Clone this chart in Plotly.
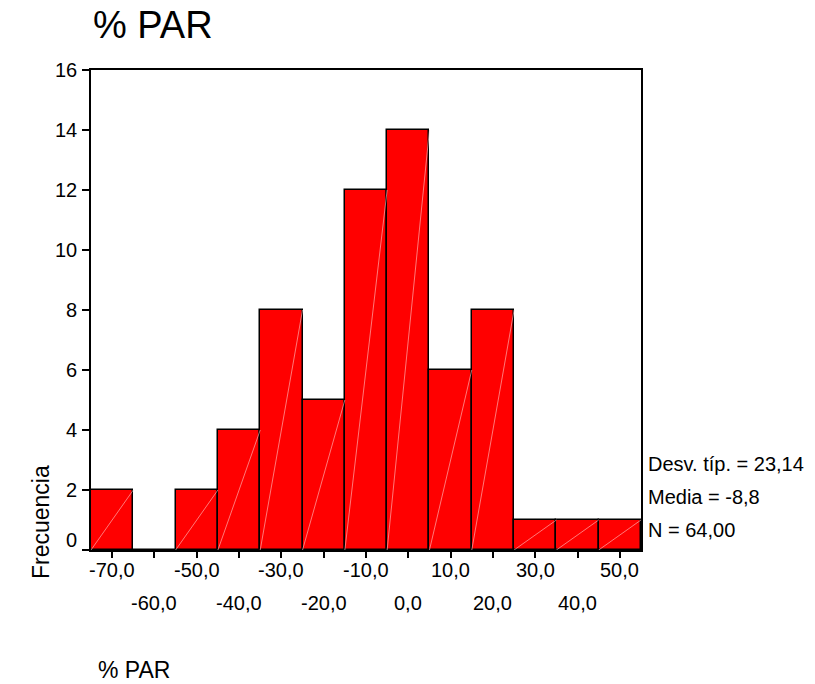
import plotly.graph_objects as go

# Data
bin_centers = [-70, -60, -50, -40, -30, -20, -10, 0, 10, 20, 30, 40, 50]
counts = [2, 0, 2, 4, 8, 5, 12, 14, 6, 8, 1, 1, 1]
x_tick_labels = ["-70,0", "-60,0", "-50,0", "-40,0", "-30,0", "-20,0", "-10,0",
                 "0,0", "10,0", "20,0", "30,0", "40,0", "50,0"]
y_tick_vals = [0, 2, 4, 6, 8, 10, 12, 14, 16]
stats_lines = ["Desv. típ. = 23,14", "Media = -8,8", "N = 64,00"]
title_text = "% PAR"
x_title = "% PAR"
y_title = "Frecuencia"
bin_width = 10

FONT = "Liberation Sans, Arial, sans-serif"

fig = go.Figure()
fig.add_trace(go.Bar(
    x=bin_centers, y=counts, width=[bin_width] * len(bin_centers),
    marker=dict(color="#FF0000", line=dict(color="black", width=1.5)),
    hoverinfo="x+y", showlegend=False,
))

# faint diagonal rendering lines inside each bar
dx, dy = [], []
for c, n in zip(bin_centers, counts):
    if n > 0:
        dx += [c - bin_width / 2, c + bin_width / 2, None]
        dy += [0, n, None]
fig.add_trace(go.Scatter(x=dx, y=dy, mode="lines",
                         line=dict(color="rgba(255,200,200,0.6)", width=1),
                         hoverinfo="skip", showlegend=False))

ann = []
# x tick labels, staggered in two rows
for i, (v, t) in enumerate(zip(bin_centers, x_tick_labels)):
    ann.append(dict(x=v, xref="x", y=0, yref="paper", yanchor="middle",
                    xanchor="center", text=t, showarrow=False,
                    yshift=-20 if i % 2 == 0 else -53,
                    font=dict(family=FONT, size=20, color="black")))
# y tick labels
for v in y_tick_vals:
    ann.append(dict(x=0, xref="paper", y=v, yref="y", xanchor="right",
                    yanchor="middle", text=str(v), showarrow=False,
                    xshift=-12, yshift=10 if v == 0 else 0,
                    font=dict(family=FONT, size=20, color="black")))
# stats
for i, s in enumerate(stats_lines):
    ann.append(dict(x=1, xref="paper", y=0, yref="paper", xanchor="left",
                    yanchor="middle", text=s, showarrow=False,
                    xshift=5, yshift=86 - 33 * i,
                    font=dict(family=FONT, size=20, color="black")))
# title
ann.append(dict(x=0, xref="paper", y=1, yref="paper", xanchor="left",
                yanchor="middle", text=title_text, showarrow=False,
                yshift=45, font=dict(family=FONT, size=38, color="black")))
# x axis title
ann.append(dict(x=0, xref="paper", y=0, yref="paper", xanchor="left",
                yanchor="middle", text=x_title, showarrow=False,
                xshift=5, yshift=-120, font=dict(family=FONT, size=23, color="black")))
# y axis title
ann.append(dict(x=0, xref="paper", y=0, yref="paper", xanchor="center",
                yanchor="middle", text=y_title, showarrow=False, textangle=-90,
                xshift=-50, yshift=28, font=dict(family=FONT, size=23, color="black")))

fig.update_layout(
    width=815, height=684,
    margin=dict(l=91, r=174, t=70, b=134),
    paper_bgcolor="white", plot_bgcolor="white",
    bargap=0,
    annotations=ann,
    xaxis=dict(range=[-75, 55], tickvals=bin_centers, showticklabels=False,
               ticks="outside", ticklen=6, tickwidth=1.5, tickcolor="black",
               showgrid=False, zeroline=False, showline=True, linecolor="black",
               linewidth=2, mirror=True),
    yaxis=dict(range=[0, 16], tickvals=y_tick_vals, showticklabels=False,
               ticks="outside", ticklen=7, tickwidth=1.5, tickcolor="black",
               showgrid=False, zeroline=False, showline=True, linecolor="black",
               linewidth=2, mirror=True),
)

fig.write_html("out.html")
